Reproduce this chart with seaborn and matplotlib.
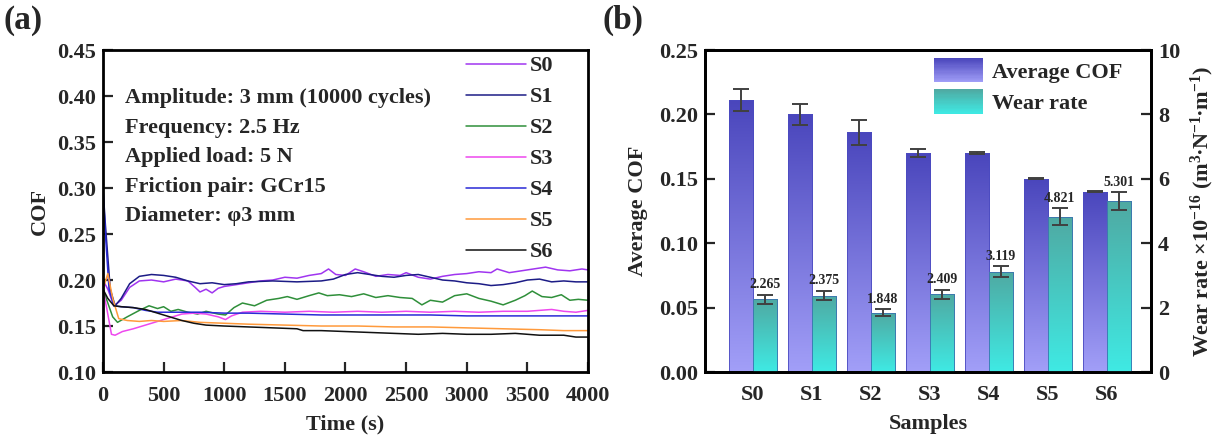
import numpy as np
import pandas as pd
import matplotlib
matplotlib.use("Agg")
import matplotlib.pyplot as plt
import seaborn as sns
from matplotlib.colors import LinearSegmentedColormap
from matplotlib.legend_handler import HandlerBase
from matplotlib.patches import Rectangle

# ---------------- data: (a) COF vs time ----------------
t_s0 = [0, 40, 90, 150, 220, 300, 400, 500, 600, 700, 760, 800, 850, 900, 950, 1000, 1100, 1200, 1300,
        1400, 1500, 1600, 1700, 1800, 1860, 1920, 2000, 2080, 2150, 2250, 2350, 2450, 2500, 2600, 2700,
        2800, 2900, 3000, 3100, 3200, 3250, 3350, 3450, 3550, 3650, 3750, 3850, 3950, 4000]
cof_s0 = [0.200, 0.190, 0.172, 0.178, 0.192, 0.199, 0.200, 0.198, 0.201, 0.199, 0.192, 0.187, 0.190, 0.186,
          0.191, 0.193, 0.195, 0.197, 0.199, 0.200, 0.203, 0.202, 0.205, 0.207, 0.212, 0.206, 0.205, 0.212,
          0.209, 0.204, 0.206, 0.205, 0.208, 0.203, 0.201, 0.204, 0.206, 0.207, 0.209, 0.208, 0.212, 0.208,
          0.210, 0.212, 0.214, 0.211, 0.210, 0.212, 0.211]

t_s1 = [0, 20, 60, 100, 150, 220, 300, 400, 500, 600, 700, 800, 900, 1000, 1100, 1200, 1400, 1600, 1800,
        1900, 2000, 2100, 2200, 2300, 2400, 2500, 2600, 2700, 2800, 2900, 3000, 3100, 3200, 3300, 3400,
        3500, 3600, 3700, 3800, 3900, 4000]
cof_s1 = [0.300, 0.260, 0.190, 0.172, 0.180, 0.196, 0.204, 0.206, 0.205, 0.203, 0.199, 0.196, 0.197, 0.195,
          0.196, 0.198, 0.199, 0.198, 0.199, 0.201, 0.206, 0.208, 0.206, 0.204, 0.203, 0.205, 0.206, 0.203,
          0.200, 0.199, 0.197, 0.196, 0.194, 0.195, 0.197, 0.200, 0.201, 0.198, 0.199, 0.198, 0.198]

t_s2 = [0, 40, 80, 120, 200, 300, 380, 450, 500, 560, 620, 700, 780, 850, 950, 1010, 1080, 1150, 1250,
        1350, 1450, 1520, 1600, 1700, 1780, 1850, 1950, 2050, 2150, 2250, 2350, 2450, 2550, 2630, 2700,
        2800, 2900, 3000, 3100, 3200, 3300, 3400, 3480, 3540, 3620, 3700, 3780, 3850, 3920, 4000]
cof_s2 = [0.190, 0.175, 0.160, 0.154, 0.160, 0.167, 0.172, 0.169, 0.171, 0.166, 0.168, 0.165, 0.163, 0.166,
          0.163, 0.162, 0.170, 0.175, 0.172, 0.178, 0.180, 0.182, 0.179, 0.183, 0.186, 0.183, 0.184, 0.182,
          0.185, 0.181, 0.183, 0.181, 0.180, 0.173, 0.178, 0.176, 0.183, 0.185, 0.180, 0.177, 0.173, 0.178,
          0.183, 0.188, 0.182, 0.181, 0.184, 0.178, 0.179, 0.178]

t_s3 = [0, 30, 70, 100, 160, 250, 350, 450, 550, 650, 750, 850, 950, 1010, 1060, 1150, 1300, 1500, 1700,
        1900, 2100, 2300, 2500, 2700, 2900, 3100, 3300, 3500, 3700, 3800, 3900, 4000]
cof_s3 = [0.190, 0.170, 0.141, 0.140, 0.144, 0.147, 0.151, 0.155, 0.159, 0.163, 0.164, 0.163, 0.160, 0.157,
          0.161, 0.165, 0.166, 0.165, 0.166, 0.165, 0.166, 0.165, 0.166, 0.165, 0.166, 0.165, 0.166, 0.166,
          0.168, 0.166, 0.165, 0.167]

t_s4 = [0, 20, 50, 90, 150, 250, 350, 450, 600, 800, 1000, 1200, 1500, 1800, 2100, 2400, 2700, 3000,
        3300, 3600, 4000]
cof_s4 = [0.300, 0.250, 0.190, 0.172, 0.171, 0.170, 0.167, 0.165, 0.165, 0.165, 0.164, 0.164, 0.163, 0.162,
          0.162, 0.162, 0.162, 0.161, 0.161, 0.161, 0.161]

t_s5 = [0, 40, 80, 130, 200, 300, 400, 500, 650, 800, 1000, 1200, 1500, 1800, 2100, 2400, 2700, 3000,
        3300, 3600, 3800, 4000]
cof_s5 = [0.190, 0.207, 0.180, 0.158, 0.156, 0.155, 0.156, 0.155, 0.156, 0.154, 0.153, 0.152, 0.151, 0.150,
          0.150, 0.149, 0.149, 0.148, 0.147, 0.146, 0.145, 0.145]

t_s6 = [0, 40, 90, 150, 250, 350, 450, 550, 650, 750, 850, 1000, 1200, 1400, 1600, 1650, 1800, 2000, 2200,
        2400, 2600, 2800, 3000, 3200, 3400, 3600, 3800, 3900, 4000]
cof_s6 = [0.190, 0.180, 0.172, 0.171, 0.170, 0.168, 0.164, 0.160, 0.156, 0.153, 0.151, 0.150, 0.149, 0.148,
          0.147, 0.145, 0.145, 0.144, 0.143, 0.142, 0.141, 0.142, 0.141, 0.141, 0.142, 0.140, 0.140, 0.138,
          0.138]

series_names = ["S0", "S1", "S2", "S3", "S4", "S5", "S6"]
series_t = [t_s0, t_s1, t_s2, t_s3, t_s4, t_s5, t_s6]
series_cof = [cof_s0, cof_s1, cof_s2, cof_s3, cof_s4, cof_s5, cof_s6]
line_colors = ["#a035f0", "#1c1c86", "#2f8f3a", "#ee48ee", "#2a2ad6", "#ff9a3c", "#111111"]

test_info = ["Amplitude: 3 mm (10000 cycles)", "Frequency: 2.5 Hz", "Applied load: 5 N",
             "Friction pair: GCr15", "Diameter: \u03c63 mm"]

# ---------------- data: (b) average COF and wear rate ----------------
samples = ["S0", "S1", "S2", "S3", "S4", "S5", "S6"]
avg_cof = [0.211, 0.200, 0.186, 0.170, 0.170, 0.150, 0.140]
avg_cof_err = [0.0085, 0.008, 0.0095, 0.003, 0.0005, 0.0005, 0.0005]
wear_rate = [2.265, 2.375, 1.848, 2.409, 3.119, 4.821, 5.301]
wear_err = [0.14, 0.15, 0.10, 0.14, 0.17, 0.27, 0.28]

# ---------------- style ----------------
sns.set_theme(style="ticks")
plt.rcParams["font.family"] = ["Liberation Serif", "DejaVu Serif"]
plt.rcParams["font.weight"] = "bold"
plt.rcParams["axes.labelweight"] = "bold"
plt.rcParams["mathtext.fontset"] = "custom"
plt.rcParams["mathtext.rm"] = "Liberation Serif:bold"
plt.rcParams["mathtext.bf"] = "Liberation Serif:bold"
plt.rcParams["mathtext.it"] = "Liberation Serif:italic:bold"
plt.rcParams["xtick.direction"] = "in"
plt.rcParams["ytick.direction"] = "in"
plt.rcParams["xtick.major.size"] = 7
plt.rcParams["ytick.major.size"] = 7
plt.rcParams["xtick.major.width"] = 1.6
plt.rcParams["ytick.major.width"] = 1.6
plt.rcParams["axes.linewidth"] = 2
plt.rcParams["axes.edgecolor"] = "black"

FS = 16

fig = plt.figure(figsize=(12.23, 4.45), dpi=100)
ax_a = fig.add_axes([0.0842, 0.164, 0.3966, 0.7236])
ax_b = fig.add_axes([0.5765, 0.164, 0.3647, 0.7236])

# ---------------- (a) ----------------
for name, t, c, col in zip(series_names, series_t, series_cof, line_colors):
    sns.lineplot(x=t, y=c, ax=ax_a, color=col, lw=1.1, label=name, sort=False)

ax_a.set_xlim(0, 4000)
ax_a.set_ylim(0.10, 0.45)
ax_a.set_xticks(np.arange(0, 4001, 500))
ax_a.set_yticks(np.arange(0.10, 0.451, 0.05))
ax_a.set_yticklabels([f"{v:.2f}" for v in np.arange(0.10, 0.451, 0.05)])
ax_a.tick_params(axis="x", labelsize=FS, pad=10)
ax_a.tick_params(axis="y", labelsize=FS, pad=5)
ax_a.set_xlabel("Time (s)", fontsize=FS, labelpad=6)
ax_a.set_ylabel("COF", fontsize=FS, labelpad=5)

leg = ax_a.legend(loc="upper right", bbox_to_anchor=(0.96, 1.03), frameon=False, fontsize=FS,
                  handlelength=2.7, handletextpad=0.15, labelspacing=0.47, borderaxespad=0.3)
for txt in leg.get_texts():
    txt.set_fontweight("bold")

for i, line in enumerate(test_info):
    ax_a.text(0.045, 0.85 - i * 0.0915, line, transform=ax_a.transAxes, fontsize=FS,
              fontweight="bold", va="center", ha="left")

fig.text(0.003, 0.955, "(a)", fontsize=24, fontweight="bold", va="center", ha="left")

# ---------------- (b) ----------------
pos = np.arange(len(samples))
off = 0.205
bw = 0.41
cof_top, cof_bot = "#4a46bc", "#a29ff8"
wear_top, wear_bot = "#4fa9a2", "#3feae4"

sns.barplot(x=pos - off, y=avg_cof, native_scale=True, width=bw, ax=ax_b, color=cof_top,
            errorbar=None, edgecolor="#4a4ac0", linewidth=0.6)
ax_w = ax_b.twinx()
sns.barplot(x=pos + off, y=wear_rate, native_scale=True, width=bw, ax=ax_w, color=wear_top,
            errorbar=None, edgecolor="#3a70b0", linewidth=0.6)


def gradient_fill(ax, top, bottom):
    cmap = LinearSegmentedColormap.from_list("g", [bottom, top])
    grad = np.linspace(0, 1, 256).reshape(-1, 1)
    for p in list(ax.patches):
        x0, y0 = p.get_x(), p.get_y()
        w, h = p.get_width(), p.get_height()
        im = ax.imshow(grad, extent=[x0, x0 + w, y0, y0 + h], origin="lower", aspect="auto",
                       cmap=cmap, zorder=p.get_zorder() - 0.1, interpolation="bilinear")
        im.set_clip_path(p)
        p.set_facecolor("none")


gradient_fill(ax_b, cof_top, cof_bot)
gradient_fill(ax_w, wear_top, wear_bot)

ax_b.errorbar(pos - off, avg_cof, yerr=avg_cof_err, fmt="none", ecolor="#404040", elinewidth=1.4,
              capsize=6, capthick=1.4, zorder=5)
ax_w.errorbar(pos + off, wear_rate, yerr=wear_err, fmt="none", ecolor="#404040", elinewidth=1.4,
              capsize=6, capthick=1.4, zorder=5)
for x, v, e in zip(pos + off, wear_rate, wear_err):
    ax_w.annotate(f"{v:.3f}", (x, v + e), xytext=(0, 2.5), textcoords="offset points",
                  ha="center", va="bottom", fontsize=10, fontweight="bold", zorder=6)

ax_b.set_xlim(-0.81, 6.75)
ax_b.set_ylim(0, 0.25)
ax_w.set_ylim(0, 10)
ax_b.set_yticks(np.arange(0, 0.251, 0.05))
ax_b.set_yticklabels([f"{v:.2f}" for v in np.arange(0, 0.251, 0.05)])
ax_w.set_yticks(np.arange(0, 11, 2))
ax_b.set_xticks(pos)
ax_b.set_xticklabels(samples)
ax_b.tick_params(axis="x", length=0, labelsize=FS, pad=9)
ax_b.tick_params(axis="y", labelsize=FS, pad=5)
ax_w.tick_params(axis="y", labelsize=FS, pad=5)
ax_b.set_xlabel("Samples", fontsize=FS, labelpad=7)
ax_b.set_ylabel("Average COF", fontsize=FS, labelpad=8)
ax_w.set_ylabel(r"Wear rate $\times$10$^{-16}$ (m$^{3}$$\bullet$N$^{-1}$$\bullet$m$^{-1}$)",
                fontsize=16, labelpad=6)


class GradHandler(HandlerBase):
    def __init__(self, top, bottom, n=20):
        super().__init__()
        self.cmap = LinearSegmentedColormap.from_list("h", [bottom, top])
        self.n = n

    def create_artists(self, legend, orig_handle, xdescent, ydescent, width, height, fontsize, trans):
        arts = []
        for i in range(self.n):
            r = Rectangle((-xdescent, -ydescent + i * height / self.n), width, height / self.n,
                          facecolor=self.cmap((i + 0.5) / self.n), edgecolor="none", transform=trans)
            arts.append(r)
        return arts


h1 = Rectangle((0, 0), 1, 1)
h2 = Rectangle((0, 0), 1, 1)
leg_b = ax_w.legend([h1, h2], ["Average COF", "Wear rate"],
                    handler_map={h1: GradHandler(cof_top, cof_bot), h2: GradHandler(wear_top, wear_bot)},
                    loc="upper right", bbox_to_anchor=(0.975, 1.03), frameon=False, fontsize=FS,
                    handlelength=2.2, handleheight=1.3, handletextpad=0.4, labelspacing=0.3,
                    borderaxespad=0.4)
for txt in leg_b.get_texts():
    txt.set_fontweight("bold")

fig.text(0.493, 0.955, "(b)", fontsize=24, fontweight="bold", va="center", ha="left")

fig.savefig("out.png", dpi=100)
